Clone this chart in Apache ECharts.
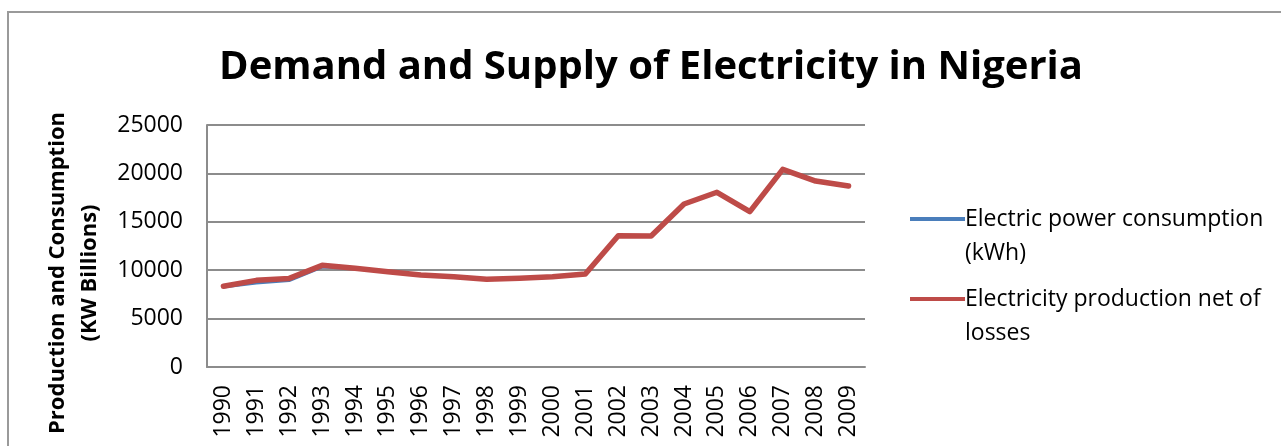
<!DOCTYPE html>
<html>
<head>
<meta charset="utf-8">
<script src="https://cdn.jsdelivr.net/npm/echarts@6/dist/echarts.min.js"></script>
<style>
  html, body { margin: 0; padding: 0; background: #fff; }
  #chart { width: 1281px; height: 446px; }
</style>
</head>
<body>
<div id="chart"></div>
<script>
// ── data ───────────────────────────────────────────────────
const YEARS = ['1990', '1991', '1992', '1993', '1994', '1995', '1996', '1997', '1998', '1999',
               '2000', '2001', '2002', '2003', '2004', '2005', '2006', '2007', '2008', '2009']
const CONSUMPTION = [8250, 8650, 8900, 10300, 10150, 9850, 9500, 9330, 9060, 9160,
                     9330, 9600, 13560, 13530, 16840, 18050, 16050, 20420, 19210, 18700]
const PRODUCTION  = [8350, 8950, 9150, 10500, 10200, 9850, 9500, 9330, 9060, 9160,
                     9330, 9600, 13560, 13530, 16840, 18050, 16050, 20420, 19210, 18700]
const SERIES_NAMES = ['Electric power consumption\n(kWh)', 'Electricity production net of\nlosses']
const Y_TICKS = { min: 0, max: 25000, interval: 5000 }

const FONT = '"Open Sans", "Liberation Sans", sans-serif'
const GRID_COLOR = '#8c8c8c'
// legend icon: line sitting on the first text line, invisible dots keep the box size
const ICON = 'path://M0,0H0.01V0.01H0Z M0,15H55V19H0Z M0,67.99H0.01V68H0Z'

const chart = echarts.init(document.getElementById('chart'), null, { renderer: 'canvas' })

chart.setOption({
  backgroundColor: '#fff',
  animation: false,
  title: {
    text: 'Demand and Supply of Electricity in Nigeria',
    left: 646,
    textAlign: 'center',
    top: 43,
    textStyle: { fontFamily: FONT, fontWeight: 'bold', fontSize: 40, color: '#000' },
  },
  graphic: [{
    type: 'rect',
    shape: { x: 8, y: 12, width: 1400, height: 600 },
    style: { fill: 'none', stroke: '#9a9a9a', lineWidth: 2 },
    silent: true,
  }],
  legend: {
    orient: 'vertical',
    left: 905,
    top: 197,
    itemWidth: 55,
    itemHeight: 68,
    itemGap: 12,
    icon: ICON,
    textStyle: { fontFamily: FONT, fontSize: 23, color: '#000', lineHeight: 34, padding: [0, 0, 0, -5] },
    data: SERIES_NAMES,
  },
  grid: { left: 207, right: 416, top: 125, bottom: 79 },
  xAxis: {
    type: 'category',
    data: YEARS,
    boundaryGap: true,
    axisLine: { lineStyle: { color: GRID_COLOR, width: 2 } },
    axisTick: { show: false },
    axisLabel: { rotate: 90, margin: 18, fontFamily: FONT, fontSize: 23, color: '#000', interval: 0 },
  },
  yAxis: {
    type: 'value',
    min: Y_TICKS.min,
    max: Y_TICKS.max,
    interval: Y_TICKS.interval,
    name: 'Production and Consumption\n(KW Billions)',
    nameLocation: 'middle',
    nameGap: 101,
    nameTextStyle: {
      fontFamily: FONT, fontWeight: 'bold', fontSize: 22, color: '#000',
      lineHeight: 32, padding: [0, 54, 0, 0],
    },
    axisLine: { show: true, lineStyle: { color: GRID_COLOR, width: 2 } },
    axisTick: { show: false },
    axisLabel: { margin: 24, fontFamily: FONT, fontSize: 23, color: '#000', formatter: (v) => String(v) },
    splitLine: { lineStyle: { color: GRID_COLOR, width: 2 } },
  },
  series: [
    {
      name: SERIES_NAMES[0],
      type: 'line',
      data: CONSUMPTION,
      symbol: 'none',
      color: '#4a7ebb',
      lineStyle: { color: '#4a7ebb', width: 2.5 },
    },
    {
      name: SERIES_NAMES[1],
      type: 'line',
      data: PRODUCTION,
      symbol: 'none',
      color: '#be4b48',
      lineStyle: { color: '#be4b48', width: 5.5, cap: 'round', join: 'round' },
    },
  ],
})
</script>
</body>
</html>
